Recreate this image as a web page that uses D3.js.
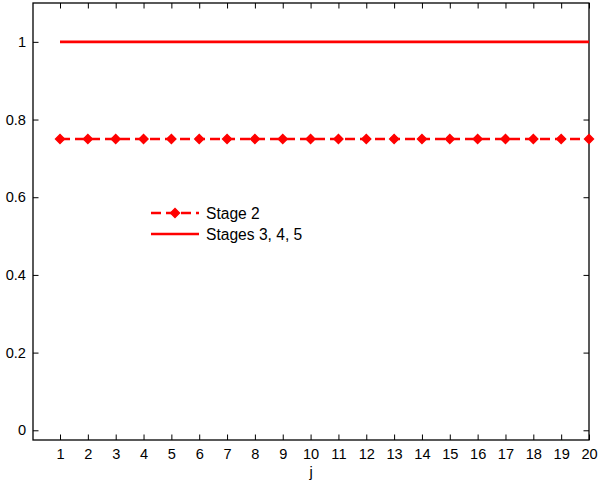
<!DOCTYPE html>
<html><head><meta charset="utf-8">
<script src="https://cdn.jsdelivr.net/npm/d3@7/dist/d3.min.js"></script>
<style>body{margin:0;background:#fff}svg{display:block}text{font-family:"Liberation Sans",Arial,sans-serif}</style>
</head><body><svg id="c" width="600" height="486"></svg>
<script>
const jValues = d3.range(1, 21);
const stage2 = [0.75,0.75,0.75,0.75,0.75,0.75,0.75,0.75,0.75,0.75,0.75,0.75,0.75,0.75,0.75,0.75,0.75,0.75,0.75,0.75];
const stages345 = [1,1,1,1,1,1,1,1,1,1,1,1,1,1,1,1,1,1,1,1];
const xTicks = d3.range(1, 21);
const yTicks = [0, 0.2, 0.4, 0.6, 0.8, 1];
const seriesNames = ["Stage 2", "Stages 3, 4, 5"];

const svg = d3.select("#c");
const L = 33, R = 589, T = 3, B = 440;
const x = d3.scaleLinear().domain([0.03, 20]).range([L, R]);
const y = d3.scaleLinear().domain([-0.025, 1.1]).range([B, T]);
const red = "#ff0000";
const tk = 5.5;

const fs = "14.6px";
const gx = svg.append("g").attr("transform", `translate(0,${B})`)
  .call(d3.axisBottom(x).tickValues(xTicks).tickSize(-tk).tickPadding(9).tickFormat(d3.format("d")));
const gxt = svg.append("g").attr("transform", `translate(0,${T})`)
  .call(d3.axisTop(x).tickValues(xTicks).tickSize(-tk).tickFormat(""));
const gy = svg.append("g").attr("transform", `translate(${L},0)`)
  .call(d3.axisLeft(y).tickValues(yTicks).tickSize(-tk).tickPadding(7).tickFormat(d => d === 0 ? "0" : d === 1 ? "1" : d3.format(".1f")(d)));
const gyr = svg.append("g").attr("transform", `translate(${R},0)`)
  .call(d3.axisRight(y).tickValues(yTicks).tickSize(-tk).tickFormat(""));
[gx, gxt, gy, gyr].forEach(g => {
  g.select(".domain").remove();
  g.selectAll("line").attr("stroke", "#000").attr("stroke-width", 1);
  g.selectAll("text").attr("fill", "#000").style("font-size", fs).attr("font-family", null);
});
svg.append("rect").attr("x", L).attr("y", T).attr("width", R - L).attr("height", B - T)
  .attr("fill", "none").attr("stroke", "#000").attr("stroke-width", 1.3);

svg.append("text").attr("x", (L + R) / 2).attr("y", 477).attr("text-anchor", "middle")
  .style("font-size", fs).text("j");

const line = (vals) => d3.line().x((d, i) => x(jValues[i])).y(d => y(d))(vals);
svg.append("path").attr("d", line(stages345)).attr("fill", "none").attr("stroke", red).attr("stroke-width", 2.6);
svg.append("path").attr("d", line(stage2)).attr("fill", "none").attr("stroke", red).attr("stroke-width", 2.6)
  .attr("stroke-dasharray", "10,5");
const diamond = d3.symbol().type(d3.symbolDiamond2).size(50);
svg.append("g").selectAll("path").data(stage2).join("path")
  .attr("transform", (d, i) => `translate(${x(jValues[i])},${y(d)})`)
  .attr("d", diamond).attr("fill", red).attr("stroke", red).attr("stroke-width", 1.5);

const lg = svg.append("g");
lg.append("line").attr("x1", 151).attr("x2", 199).attr("y1", 213).attr("y2", 213)
  .attr("stroke", red).attr("stroke-width", 2.6).attr("stroke-dasharray", "10,5");
lg.append("path").attr("transform", "translate(175,213)").attr("d", diamond).attr("fill", red).attr("stroke", red).attr("stroke-width", 1.5);
lg.append("line").attr("x1", 151).attr("x2", 199).attr("y1", 234).attr("y2", 234)
  .attr("stroke", red).attr("stroke-width", 2.6);
lg.selectAll("text").data(seriesNames).join("text")
  .attr("x", 206).attr("y", (d, i) => 214 + i * 21).attr("dy", "0.35em")
  .style("font-size", "15.6px").text(d => d);
</script></body></html>
